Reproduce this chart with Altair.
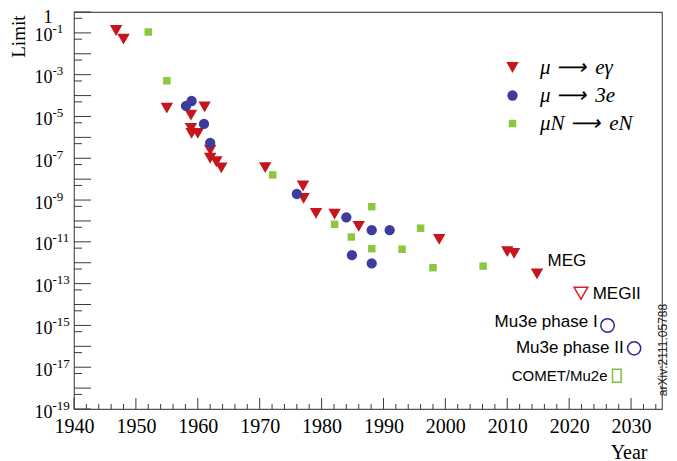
import altair as alt
import pandas as pd

# ---------------- data ----------------
PROCESSES = ["μ ⟶ \u2009eγ", "μ ⟶ \u20093e", "μN ⟶ \u2009eN"]

meg_year = [1946.8, 1948.0, 1955.0, 1958.9, 1958.9, 1959.0, 1960.0, 1961.1,
            1962.0, 1962.0, 1963.0, 1963.8, 1970.9, 1977.0, 1977.1, 1979.1,
            1982.1, 1986.0, 1999.0, 2010.0, 2011.1, 2014.8]
meg_limit = [1.3e-1, 5.0e-2, 2.5e-5, 1.15e-5, 2.7e-6, 1.55e-6, 1.55e-6, 2.9e-5,
             2.45e-7, 1.0e-7, 6.8e-8, 3.5e-8, 3.6e-8, 4.7e-9, 1.2e-9, 2.3e-10,
             2.1e-10, 5.5e-11, 1.3e-11, 3.4e-12, 2.8e-12, 2.9e-13]

m3e_year = [1958.1, 1959.0, 1961.0, 1962.0, 1976.0, 1984.0, 1984.9, 1988.1,
            1988.1, 1991.0]
m3e_limit = [3.2e-5, 5.5e-5, 4.4e-6, 5.5e-7, 1.95e-9, 1.5e-10, 2.3e-12, 3.6e-11,
             9.3e-13, 3.6e-11]

mue_year = [1952.0, 1955.0, 1972.1, 1982.1, 1984.8, 1988.1, 1988.1, 1993.0,
            1996.0, 1998.0, 2006.1]
mue_limit = [1.1e-1, 5.1e-4, 1.6e-8, 6.9e-11, 1.7e-11, 4.8e-10, 4.7e-12, 4.4e-12,
             4.5e-11, 5.8e-13, 6.9e-13]

future_name = ["MEGII", "Mu3e phase I", "Mu3e phase II", "COMET/Mu2e"]
future_year = [2021.9, 2026.2, 2030.5, 2027.7]
future_limit = [3.5e-14, 1.0e-15, 8.0e-17, 3.9e-18]

left_label = ["MEG", "MEGII"]
left_label_year = [2016.5, 2023.8]
left_label_limit = [1.2e-12, 3.2e-14]

right_label = ["Mu3e phase I", "Mu3e phase II"]
right_label_year = [2024.6, 2028.8]
right_label_limit = [1.45e-15, 8.3e-17]

small_label = ["COMET/Mu2e"]
small_label_year = [2026.2]
small_label_limit = [3.8e-18]

note_text = ["arXiv:2111.05788"]

decades = list(range(1940, 2040, 10))
minor_years = [y for y in range(1942, 2036, 2) if y % 10]
y_labeled = [1.0] + [10.0 ** e for e in range(-1, -20, -2)]
y_major = [10.0 ** e for e in range(0, -20, -1)]
y_minor = [5 * 10.0 ** e for e in range(-1, -20, -1)]

# ---------------- tables ----------------
df = pd.concat([
    pd.DataFrame({"year": meg_year, "limit": meg_limit, "process": PROCESSES[0]}),
    pd.DataFrame({"year": m3e_year, "limit": m3e_limit, "process": PROCESSES[1]}),
    pd.DataFrame({"year": mue_year, "limit": mue_limit, "process": PROCESSES[2]}),
], ignore_index=True)
df_future = pd.DataFrame({"year": future_year, "limit": future_limit, "name": future_name})
df_left = pd.DataFrame({"year": left_label_year, "limit": left_label_limit, "t": left_label})
df_right = pd.DataFrame({"year": right_label_year, "limit": right_label_limit, "t": right_label})
df_small = pd.DataFrame({"year": small_label_year, "limit": small_label_limit, "t": small_label})
df_note = pd.DataFrame({"t": note_text})
df_xmaj = pd.DataFrame({"v": decades})
df_xmin = pd.DataFrame({"v": minor_years})
df_ymaj = pd.DataFrame({"v": y_major})
df_ymin = pd.DataFrame({"v": y_minor})

# ---------------- style ----------------
W, H = 588, 397
SERIF = "Liberation Serif"
SANS = "Liberation Sans"
TICK = "#3a3a3a"
RED, BLUE, GREEN = "#c4161c", "#3c3c9c", "#8dc63f"

XS = alt.Scale(domain=[1940, 2035], nice=False, zero=False)
YS = alt.Scale(type="log", domain=[1e-19, 1], nice=False)

ax_x_labels = alt.Axis(
    orient="bottom", values=decades, format="d", ticks=False, tickSize=0,
    domain=False, grid=False, labelFont=SERIF, labelFontSize=20,
    labelColor="black", labelPadding=23, labelBaseline="alphabetic",
    labelFlush=False, labelOverlap=False,
    title="Year", titleFont=SERIF, titleFontSize=20, titleFontWeight="normal",
    titleColor="black", titleAlign="right", titleAnchor="end",
    titleX=573, titleY=49, titleBaseline="alphabetic")

ax_y_base = alt.Axis(
    orient="left", values=y_labeled,
    labelExpr="datum.value >= 0.5 ? '1' : '10'",
    ticks=False, tickSize=0, domain=False, grid=False,
    labelFont=SERIF, labelFontSize=18, labelColor="black", labelAlign="right",
    labelBaseline="middle",
    labelOffset={"condition": {"test": "datum.value >= 0.5", "value": 5}, "value": 3},
    labelPadding=22, labelOverlap=False,
    title="Limit", titleFont=SERIF, titleFontSize=19, titleFontWeight="normal",
    titleColor="black", titleAngle=270, titleAlign="right",
    titleBaseline="alphabetic", titleX=-50, titleY=3)
ax_y_exp = alt.Axis(
    orient="left", values=y_labeled,
    labelExpr="datum.value >= 0.5 ? '' : '' + round(log(datum.value) / LN10)",
    ticks=False, tickSize=0, domain=False, grid=False,
    labelFont=SERIF, labelFontSize=13, labelColor="black", labelAlign="left",
    labelBaseline="middle", labelOffset=-4, labelPadding=22, labelOverlap=False,
    title=None)

legend = alt.Legend(
    orient="none", legendX=428, legendY=45, title=None, direction="vertical",
    labelFont=SERIF, labelFontStyle="italic", labelFontSize=21,
    labelColor="black", symbolSize=70, symbolStrokeWidth=0, labelOffset=17,
    rowPadding=6, padding=0)

# ---------------- layers ----------------
points = alt.Chart(df).mark_point(filled=True, opacity=1, strokeWidth=0).encode(
    x=alt.X("year:Q", scale=XS, axis=ax_x_labels),
    y=alt.Y("limit:Q", scale=YS, axis=ax_y_base),
    color=alt.Color("process:N", scale=alt.Scale(domain=PROCESSES, range=[RED, BLUE, GREEN]), legend=legend),
    shape=alt.Shape("process:N", scale=alt.Scale(domain=PROCESSES, range=["triangle-down", "circle", "square"]), legend=legend),
    size=alt.Size("process:N", scale=alt.Scale(domain=PROCESSES, range=[155, 56, 72]), legend=None),
)

future = alt.Chart(df_future).mark_point(filled=False, opacity=1, strokeWidth=1.5).encode(
    x=alt.X("year:Q", scale=XS, axis=None),
    y=alt.Y("limit:Q", scale=YS, axis=ax_y_exp),
    color=alt.Color("name:N", scale=alt.Scale(domain=future_name, range=["#d2262b", "#2e2a8c", "#2e2a8c", "#7dbf45"]), legend=None),
    shape=alt.Shape("name:N", scale=alt.Scale(domain=future_name, range=["triangle-down", "circle", "circle", "M-0.67,-1L0.67,-1L0.67,1L-0.67,1Z"]), legend=None),
    size=alt.Size("name:N", scale=alt.Scale(domain=future_name, range=[190, 165, 165, 324]), legend=None),
)

x_major = alt.Chart(df_xmaj).mark_rule(color=TICK, strokeWidth=1).encode(
    x=alt.X("v:Q", scale=XS, axis=None), y=alt.value(H), y2=alt.value(H - 11))
x_minor = alt.Chart(df_xmin).mark_rule(color=TICK, strokeWidth=1).encode(
    x=alt.X("v:Q", scale=XS, axis=None), y=alt.value(H), y2=alt.value(H - 5))
y_major_t = alt.Chart(df_ymaj).mark_rule(color=TICK, strokeWidth=1).encode(
    y=alt.Y("v:Q", scale=YS, axis=None), x=alt.value(0), x2=alt.value(17))
y_minor_t = alt.Chart(df_ymin).mark_rule(color=TICK, strokeWidth=1).encode(
    y=alt.Y("v:Q", scale=YS, axis=None), x=alt.value(0), x2=alt.value(8))

text_left = alt.Chart(df_left).mark_text(font=SANS, fontSize=17, align="left", baseline="middle", color="black").encode(
    x=alt.X("year:Q", scale=XS, axis=None),
    y=alt.Y("limit:Q", scale=YS, axis=None),
    text="t:N",
)
text_right = alt.Chart(df_right).mark_text(font=SANS, fontSize=17, align="right", baseline="middle", color="black").encode(
    x=alt.X("year:Q", scale=XS, axis=None),
    y=alt.Y("limit:Q", scale=YS, axis=None),
    text="t:N",
)
text_small = alt.Chart(df_small).mark_text(font="Liberation Sans Narrow, Liberation Sans", fontSize=15, align="right", baseline="middle", color="black").encode(
    x=alt.X("year:Q", scale=XS, axis=None),
    y=alt.Y("limit:Q", scale=YS, axis=None),
    text="t:N",
)
note = alt.Chart(df_note).mark_text(font=SANS, fontSize=12, angle=270, align="center", baseline="alphabetic", color="#222222").encode(
    x=alt.value(593), y=alt.value(338), text="t:N",
)

chart = alt.layer(
    x_major, x_minor, y_major_t, y_minor_t,
    points, future, text_left, text_right, text_small, note
).resolve_axis(
    x="independent", y="independent"
).resolve_scale(
    color="independent", shape="independent", size="independent"
).properties(
    width=W, height=H,
    padding={"left": 66, "top": 4, "right": 7, "bottom": 52},
    autosize=alt.AutoSizeParams(type="none"),
).configure_view(stroke="#555555", strokeWidth=1.2)

chart.save("out.html", embed_options={"renderer": "svg", "actions": False})
